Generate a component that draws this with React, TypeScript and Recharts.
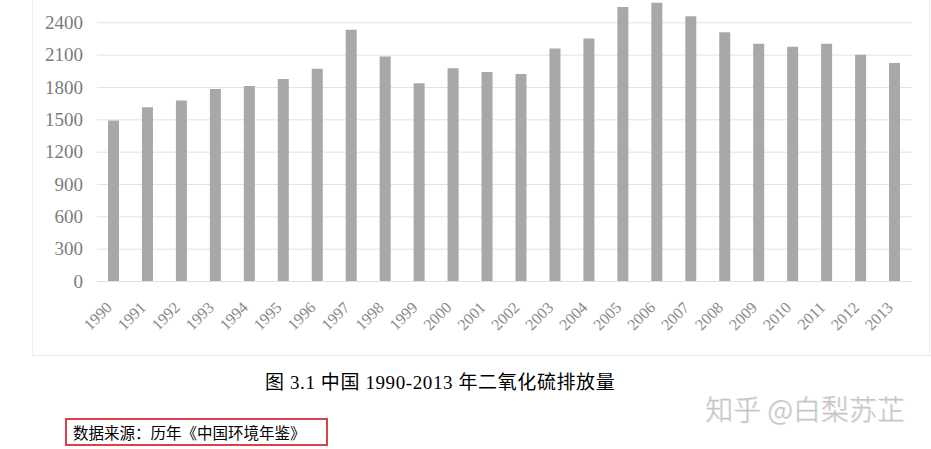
import React from "react";
import { BarChart, Bar, XAxis, YAxis, CartesianGrid } from "recharts";

const years: string[] = [
  "1990", "1991", "1992", "1993", "1994", "1995", "1996", "1997", "1998", "1999", "2000", "2001",
  "2002", "2003", "2004", "2005", "2006", "2007", "2008", "2009", "2010", "2011", "2012", "2013",
];
const emissions: number[] = [
  1493, 1617, 1679, 1787, 1815, 1880, 1973, 2335, 2087, 1840, 1979, 1944,
  1926, 2161, 2254, 2546, 2586, 2462, 2313, 2205, 2177, 2207, 2105, 2028,
];
const yTicks: number[] = [0, 300, 600, 900, 1200, 1500, 1800, 2100, 2400, 2700];
const yLabelMax = 2400;
const captionText = "图 3.1  中国 1990-2013 年二氧化硫排放量";
const sourceText = "数据来源：历年《中国环境年鉴》";
const watermarkText = "知乎 @白梨苏芷";

const data = years.map((y, i) => ({ year: y, value: emissions[i] }));

const SERIF = "'Liberation Serif', 'DejaVu Serif', serif";
const CJK = "'Liberation Serif', 'Noto Sans CJK SC', sans-serif";

const XTick = (props: any) => {
  const { x, y, payload } = props;
  return (
    <g transform={`translate(${x},${y})`}>
      <text
        x={0}
        y={0}
        transform="translate(-1,27) rotate(-45)"
        textAnchor="end"
        fill="#8a8a8a"
        fontSize={16}
        fontFamily={SERIF}
      >
        {payload.value}
      </text>
    </g>
  );
};

const YTick = (props: any) => {
  const { x, y, payload } = props;
  if (payload.value > yLabelMax) return <g />;
  return (
    <text
      x={x}
      y={y}
      dy={6}
      textAnchor="end"
      fill="#7c7c7c"
      fontSize={19}
      fontFamily={SERIF}
    >
      {payload.value}
    </text>
  );
};

export default function App() {
  return (
    <div
      style={{
        position: "absolute",
        left: 0,
        top: 0,
        width: 931,
        height: 449,
        background: "#ffffff",
        overflow: "hidden",
      }}
    >
      {/* faint frame of the scanned chart */}
      <div style={{ position: "absolute", left: 32, top: 0, width: 1, height: 355, background: "#eeeeee" }} />
      <div style={{ position: "absolute", left: 32, top: 355, width: 899, height: 1, background: "#e8e8e8" }} />
      <div style={{ position: "absolute", left: 929, top: 0, width: 1, height: 355, background: "#eeeeee" }} />

      <div style={{ position: "absolute", left: 0, top: -20 }}>
        <BarChart
          width={931}
          height={370}
          data={data}
          margin={{ top: 10.5, right: 19, bottom: 8.5, left: 37 }}
          barCategoryGap={0}
        >
          <CartesianGrid vertical={false} stroke="#e2e2e2" strokeWidth={1} />
          <XAxis
            dataKey="year"
            axisLine={{ stroke: "#e0e0e0" }}
            tickLine={false}
            tickSize={0}
            tickMargin={0}
            height={60}
            interval={0}
            tick={<XTick />}
          />
          <YAxis
            domain={[0, 2700]}
            ticks={yTicks}
            axisLine={false}
            tickLine={false}
            tickSize={0}
            tickMargin={14}
            width={60}
            interval={0}
            tick={<YTick />}
          />
          <Bar dataKey="value" fill="#a8a8a8" barSize={11} isAnimationActive={false} />
        </BarChart>
      </div>

      <div
        style={{
          position: "absolute",
          left: 265,
          top: 370,
          fontSize: 19,
          lineHeight: "26px",
          letterSpacing: 0.6,
          fontFamily: CJK,
          color: "#000000",
          whiteSpace: "nowrap",
        }}
      >
        {captionText}
      </div>

      <div
        style={{
          position: "absolute",
          left: 705,
          top: 390,
          fontSize: 28,
          lineHeight: "36px",
          fontFamily: "'Noto Sans CJK SC', sans-serif",
          fontWeight: 300,
          color: "#c6c6c6",
          textShadow: "1px 1px 0 rgba(0,0,0,0.12)",
          whiteSpace: "nowrap",
        }}
      >
        {watermarkText}
      </div>

      <div
        style={{
          position: "absolute",
          left: 65,
          top: 418,
          width: 263,
          height: 28,
          boxSizing: "border-box",
          border: "2px solid #d8434b",
          paddingLeft: 6,
          fontSize: 15.5,
          lineHeight: "24px",
          fontFamily: "'Noto Sans CJK SC', sans-serif",
          color: "#000000",
          whiteSpace: "nowrap",
        }}
      >
        {sourceText}
      </div>
    </div>
  );
}
